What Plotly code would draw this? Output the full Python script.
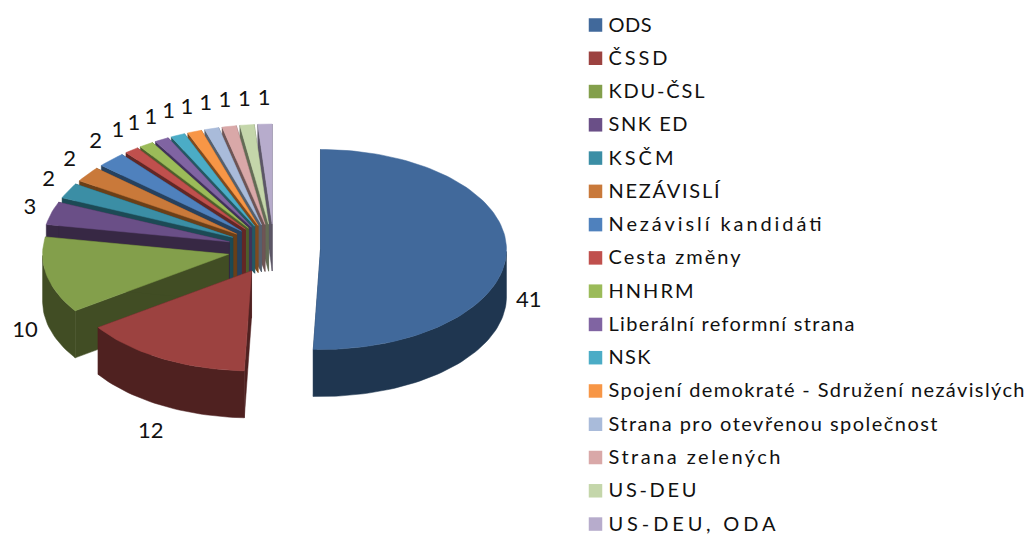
import math
import plotly.graph_objects as go

parties = ["ODS", "ČSSD", "KDU-ČSL", "SNK ED", "KSČM", "NEZÁVISLÍ", "Nezávislí kandidáti", "Cesta změny",
           "HNHRM", "Liberální reformní strana", "NSK", "Spojení demokraté - Sdružení nezávislých",
           "Strana pro otevřenou společnost", "Strana zelených", "US-DEU", "US-DEU, ODA"]
seats = [41, 12, 10, 3, 2, 2, 2, 1, 1, 1, 1, 1, 1, 1, 1, 1]
top_colors = ["#41699B", "#9C4240", "#839F4B", "#6A4F87", "#3B8EA5", "#C9793A", "#4F81BD", "#C0504D",
              "#9BBB59", "#8064A2", "#4BACC6", "#F79646", "#A9BBDA", "#D9A8A8", "#C4D6AA", "#B7ACCC"]
wall_colors = ["#1F3650", "#4F2120", "#414D24", "#372844", "#1C4A55", "#6A3F18", "#27415E", "#622725",
               "#4E5F2C", "#40325A", "#255863", "#7F4A1E", "#55606E", "#6E5555", "#636C55", "#5C5667"]
# rendered widths of the legend labels (the source has very loose letter spacing)
legend_text_widths = [43, 59, 96, 79, 65, 111, 213, 132, 85, 246, 42, 416, 329, 172, 88, 167]

# layout of the projected pie, in page pixels
CX, CY, RX, RY, DEPTH, EXPLODE = 274, 249, 186, 100, 47, 0.25
LEG_X, LEG_Y0, LEG_DY = 595.5, 25, 33.27
TEXT = "#111111"
FONT = "Lato, Carlito, sans-serif"


def point(ox, oy, a, r=1.0):
    return ox + RX * r * math.sin(a), oy - RY * r * math.cos(a)


def wall(fig, pts, color):
    xs = [p[0] for p in pts] + [p[0] for p in reversed(pts)] + [pts[0][0]]
    ys = [p[1] for p in pts] + [p[1] + DEPTH for p in reversed(pts)] + [pts[0][1]]
    fig.add_trace(go.Scatter(x=xs, y=ys, mode="lines", fill="toself", fillcolor=color,
                             line=dict(color=color, width=0.5), hoverinfo="skip", showlegend=False))


total = sum(seats)
slices = []
cum = 0
for i, v in enumerate(seats):
    a0 = cum / total * 2 * math.pi
    cum += v
    a1 = cum / total * 2 * math.pi
    mid = (a0 + a1) / 2
    ox, oy = point(CX, CY, mid, EXPLODE)
    slices.append((oy, i, a0, a1, mid, ox))

fig = go.Figure()
for oy, i, a0, a1, mid, ox in sorted(slices, key=lambda s: s[0]):
    n = max(6, int((a1 - a0) / 0.03))
    angles = [a0 + (a1 - a0) * k / n for k in range(n + 1)]
    arc = [point(ox, oy, a) for a in angles]
    # radial faces, then the part of the outer rim facing the viewer
    wall(fig, [(ox, oy), arc[0]], wall_colors[i])
    wall(fig, [(ox, oy), arc[-1]], wall_colors[i])
    rim = [point(ox, oy, a) for a in angles if math.cos(a) <= 0]
    if len(rim) > 1:
        wall(fig, rim, wall_colors[i])
    fig.add_trace(go.Scatter(x=[ox] + [p[0] for p in arc] + [ox], y=[oy] + [p[1] for p in arc] + [oy],
                             mode="lines", fill="toself", fillcolor=top_colors[i],
                             line=dict(color=top_colors[i], width=0.5), name=parties[i], showlegend=False))

# data labels, placed outward along each slice's bisector
lx, ly = [], []
for oy, i, a0, a1, mid, ox in sorted(slices, key=lambda s: s[1]):
    lx.append(CX + RX * 1.37 * math.sin(mid))
    ly.append(CY + 3 - RY * 1.53 * math.cos(mid) + (DEPTH if math.cos(mid) < 0 else 0))
fig.add_trace(go.Scatter(x=lx, y=ly, mode="text", text=[str(v) for v in seats], hoverinfo="skip",
                         textfont=dict(family=FONT, size=22, color=TEXT), showlegend=False))

# legend column
rows = [LEG_Y0 + LEG_DY * k for k in range(len(parties))]
fig.add_trace(go.Scatter(x=[LEG_X] * len(parties), y=rows, mode="markers", hoverinfo="skip", showlegend=False,
                         marker=dict(symbol="square", size=13.5, color=top_colors, line=dict(width=0))))
fig.add_trace(go.Scatter(x=[LEG_X + 13] * len(parties), y=[r + 1.5 for r in rows], mode="text", text=parties,
                         hoverinfo="skip", textposition="middle right", showlegend=False,
                         textfont=dict(family=FONT, size=20, color=TEXT)))

fig.update_layout(width=1027, height=534, margin=dict(l=0, r=0, t=0, b=0), paper_bgcolor="white",
                  plot_bgcolor="white", showlegend=False,
                  xaxis=dict(range=[0, 1027], visible=False, fixedrange=True),
                  yaxis=dict(range=[534, 0], visible=False, fixedrange=True))

# stretch the legend labels' letter spacing to the source's widths
spread = """
document.body.style.margin='0';document.body.style.overflow='hidden';
var widths = %s;
var layers = document.querySelectorAll('.scatterlayer .trace');
var nodes = layers[layers.length - 1].querySelectorAll('.textpoint text');
nodes.forEach(function (t, k) { t.setAttribute('textLength', widths[k]); t.setAttribute('lengthAdjust', 'spacing'); });
""" % legend_text_widths
fig.write_html("out.html", config={"displayModeBar": False}, post_script=spread)
